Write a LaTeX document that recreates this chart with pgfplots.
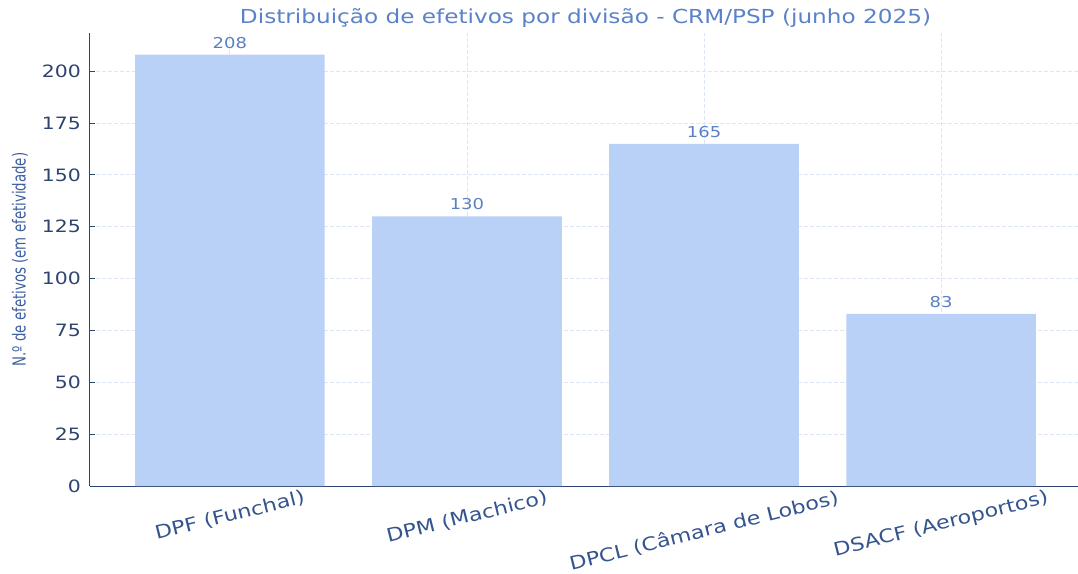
\documentclass[border=0pt]{standalone}
\usepackage{fontspec}
\setmainfont[FakeStretch=1.2]{DejaVu Sans}
\newfontfamily\ylabfont[FakeStretch=0.74]{DejaVu Sans}
\usepackage{pgfplots}
\pgfplotsset{compat=1.18}

\definecolor{barblue}{HTML}{BAD1F7}
\definecolor{navy}{HTML}{2E4470}
\definecolor{titleblue}{HTML}{5A82C8}
\definecolor{labblue}{HTML}{3D5F9F}
\definecolor{tickblue}{HTML}{34548F}
\definecolor{gridblue}{HTML}{DCE6F5}
\definecolor{valblue}{HTML}{5A80C4}

\begin{document}
\begin{tikzpicture}
\begin{axis}[
    at={(0,0)}, anchor=south west,
    scale only axis,
    width=991pt, height=453pt,
    xmin=-0.59, xmax=3.59,
    ymin=0, ymax=218.4,
    axis lines*=left,
    axis line style={navy, line width=1pt},
    tick align=inside,
    major tick length=5pt,
    tick style={navy, line width=0.8pt},
    xtick={0,1,2,3},
    xticklabels={
        \rotatebox{14}{DPF (Funchal)},
        \rotatebox{14}{DPM (Machico)},
        \rotatebox{14}{DPCL (Câmara de Lobos)},
        \rotatebox{14}{DSACF (Aeroportos)}},
    ytick={0,25,...,200},
    /pgf/number format/assume math mode=true,
    yticklabel style={font=\fontsize{17}{17}\selectfont, text=navy, inner sep=0pt, xshift=-9pt},
    xticklabel style={font=\fontsize{18.5}{18.5}\selectfont, text=tickblue, anchor=north, inner sep=0pt, yshift=-3pt},
    grid=major,
    major grid style={gridblue, dash pattern=on 4pt off 2pt, line width=0.8pt},
    title={Distribuição de efetivos por divisão - CRM/PSP (junho 2025)},
    title style={font=\fontsize{19.3}{19.3}\selectfont, text=titleblue, at={(0.5,1)}, anchor=base, yshift=3pt},
    ylabel={\ylabfont N.º de efetivos (em efetividade)},
    ylabel style={font=\fontsize{18}{18}\selectfont, text=labblue, at={(axis description cs:-0.0706,0.5)}, anchor=center},
    nodes near coords,
    every node near coord/.append style={font=\fontsize{15}{15}\selectfont, text=valblue, inner sep=0pt, yshift=6pt},
]
\addplot[ybar, bar width=0.8, bar shift=0pt, fill=barblue, draw=none]
    coordinates {(0,208) (1,130) (2,165) (3,83)};
\end{axis}
\pgfresetboundingbox
\useasboundingbox (-90pt,-87pt) rectangle (988pt,486pt);
\end{tikzpicture}
\end{document}
